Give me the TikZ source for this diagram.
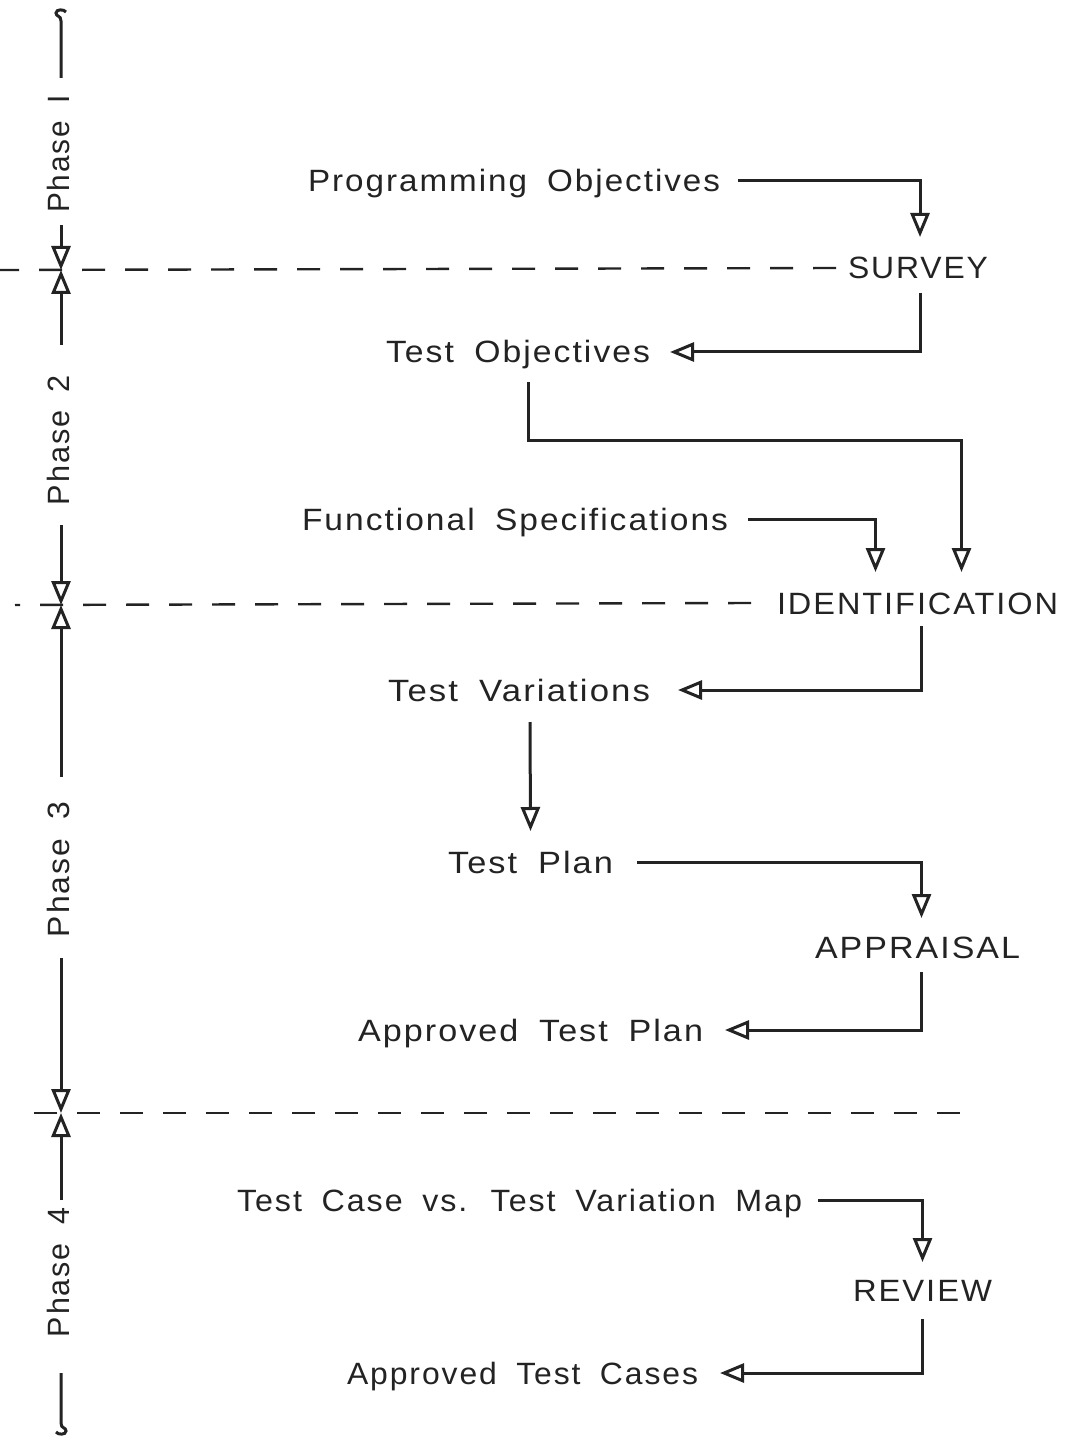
\documentclass[tikz,border=0pt]{standalone}
\usepackage{fontspec}
\setmainfont[LetterSpace=6,WordSpace=1.8]{Liberation Sans}
\usetikzlibrary{arrows.meta,calc}
\definecolor{ink}{RGB}{35,35,35}
\newcommand\fitw[2]{\resizebox{#1}{\height}{#2}}
\begin{document}
\begin{tikzpicture}[x=0.5pt,y=-0.5pt,
  lbl/.style={inner sep=0pt,outer sep=0pt,text height=11pt,text depth=0pt,
    font=\fontsize{15.4}{18}\selectfont,text=ink,anchor=west},
  phz/.style={lbl,rotate=90,anchor=center},
  ln/.style={draw=ink,line width=1.5pt},
  arr/.style={ln,-{Triangle[open,length=12pt,width=9.5pt,fill=white]}},
  dsh/.style={draw=ink,line width=1.2pt,dash pattern=on 11.5pt off 10pt}]
\fill[white] (0,0) rectangle (1066,1444);
\useasboundingbox (0,0) rectangle (1066,1444);

% text nodes
\node[lbl] (po)  at (308,181)  {\fitw{206pt}{Programming Objectives}};
\node[lbl] (sv)  at (848,268)  {\fitw{70pt}{SURVEY}};
\node[lbl] (to)  at (386,352)  {\fitw{132pt}{Test Objectives}};
\node[lbl] (fs)  at (302,519)  {\fitw{213pt}{Functional Specifications}};
\node[lbl] (id)  at (777,603)  {\fitw{140.5pt}{IDENTIFICATION}};
\node[lbl] (tv)  at (388,690)  {\fitw{131pt}{Test Variations}};
\node[lbl] (tp)  at (448,862)  {\fitw{82.5pt}{Test Plan}};
\node[lbl] (ap)  at (815,947)  {\fitw{102.5pt}{APPRAISAL}};
\node[lbl] (atp) at (358,1030) {\fitw{172.5pt}{Approved Test Plan}};
\node[lbl] (tcm) at (237,1200) {\fitw{282.5pt}{Test Case vs. Test Variation Map}};
\node[lbl] (rv)  at (853,1290) {\fitw{69.5pt}{REVIEW}};
\node[lbl] (atc) at (347,1373) {\fitw{175.5pt}{Approved Test Cases}};

% connectors
\draw[arr] ([xshift=9pt]po.east) -| ([xshift=1pt,yshift=10pt]sv.north);
\draw[arr] ([xshift=1pt,yshift=-7pt]sv.south) |- ([xshift=10pt]to.east);
\draw[arr] ([xshift=5pt,yshift=-9.5pt]to.south) -- ++(0,-29pt) -| ([xshift=22pt,yshift=10pt]id.north);
\draw[arr] ([xshift=10pt]fs.east) -| ([xshift=-21pt,yshift=10pt]id.north);
\draw[arr] ([xshift=2pt,yshift=-6pt]id.south) |- ([xshift=14pt]tv.east);
\draw[arr] ([xshift=5.5pt,yshift=-10.5pt]tv.south) -- ([yshift=10pt]tp.north);
\draw[arr] ([xshift=12pt]tp.east) -| ([xshift=2pt,yshift=9pt]ap.north);
\draw[arr] ([xshift=2pt,yshift=-7pt]ap.south) |- ([xshift=11pt]atp.east);
\draw[arr] ([xshift=8pt]tcm.east) -| ([yshift=8.5pt]rv.north);
\draw[arr] ([yshift=-9pt]rv.south) |- ([xshift=11pt]atc.east);

% dashed phase boundaries (drawn from the right so the last dash meets the text)
\coordinate (dl1) at (0,270);
\coordinate (dl2) at (15,605);
\coordinate (dl3) at (18,1113);
\coordinate (dr3) at (960,1113);
\draw[dsh] ([xshift=-6pt]sv.west) -- (dl1);
\draw[dsh] ([xshift=-13pt]id.west) -- (dl2);
\draw[dsh] (dr3) -- (dl3);

% phase axis
\coordinate (c1) at (61,270);
\coordinate (c2) at (61,605);
\coordinate (c3) at (61,1113);
\coordinate (t1) at (61,21);
\coordinate (t2) at (61,1423);
\node[phz] (p1) at (58,154)    {\fitw{59pt}{Phase I}};
\node[phz] (p2) at (58,440)    {\fitw{65pt}{Phase 2}};
\node[phz] (p3) at (58,869.5)  {\fitw{67.5pt}{Phase 3}};
\node[phz] (p4) at (58,1272.5) {\fitw{64.5pt}{Phase 4}};

\draw[ln] ($(p1.east -| t1)+(0,-17)$) -- (t1)
  .. controls (61,15) and (56,17) .. (56,13) .. controls (56,9) and (64,9) .. (66,12);
\draw[arr] ($(p1.west -| c1)+(0,12)$) -- (c1);
\draw[arr] ($(p2.east -| c1)+(0,-30)$) -- (c1);
\draw[arr] ($(p2.west -| c2)+(0,20)$) -- (c2);
\draw[arr] ($(p3.east -| c2)+(0,-25)$) -- (c2);
\draw[arr] ($(p3.west -| c3)+(0,21)$) -- (c3);
\draw[arr] ($(p4.east -| c3)+(0,-8)$) -- (c3);
\draw[ln] ($(p4.west -| t2)+(0,36)$) -- (t2)
  .. controls (61,1429) and (66,1427) .. (66,1431) .. controls (66,1435) and (58,1435) .. (56,1432);
\end{tikzpicture}
\end{document}
